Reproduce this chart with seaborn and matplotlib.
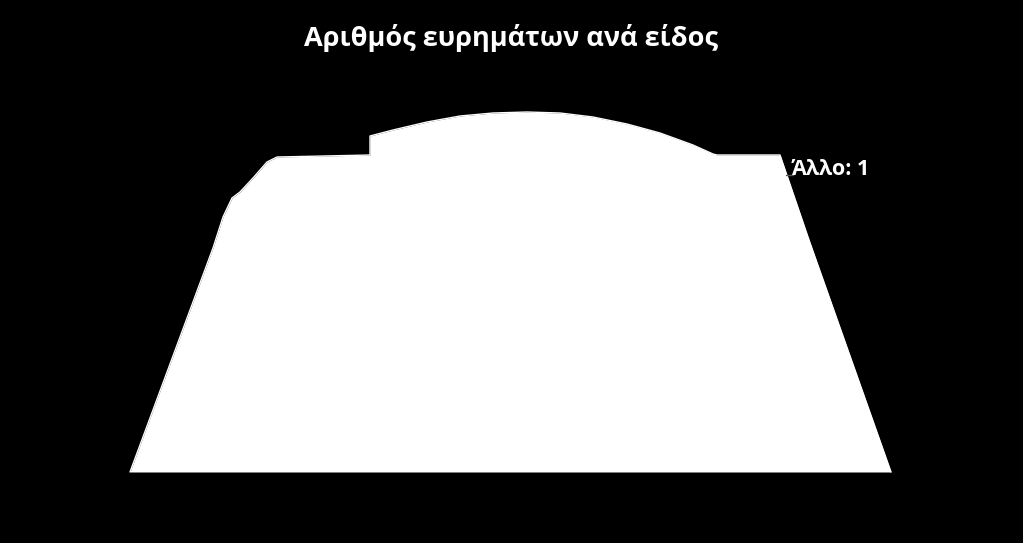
import matplotlib
matplotlib.use("Agg")
import matplotlib.pyplot as plt
import seaborn as sns
import numpy as np
import pandas as pd

# Outline of the white area (x position, top edge height)
outline_x = [130, 213, 223, 232, 240, 253, 267, 277, 370, 370, 393, 427, 460, 493,
             527, 560, 593, 627, 660, 693, 713, 717, 780, 809, 891]
outline_top = [472, 248, 217, 198, 192, 178, 162, 157, 155, 136, 130, 122, 116, 113,
               112, 113, 117, 124, 133, 145, 154, 155, 155, 240, 472]
baseline = 472

title = "Αριθμός ευρημάτων ανά είδος"
label_text = "Άλλο: 1"

sns.set_theme(style="white")
plt.rcParams['font.family'] = ['Open Sans', 'DejaVu Sans']

fig = plt.figure(figsize=(10.23, 5.43), dpi=100, facecolor="black")
ax = fig.add_axes([0, 0, 1, 1])
ax.set_facecolor("black")

df = pd.DataFrame({"x": outline_x, "top": outline_top})
ax.fill_between(df["x"], df["top"], baseline, color="white", linewidth=0)
sns.lineplot(data=df, x="x", y="top", sort=False, estimator=None, color="white",
             linewidth=1, ax=ax)

ax.set_xlim(0, 1023)
ax.set_ylim(543, 0)
ax.set_axis_off()

fig.text(0.5, 1 - 38 / 543, title, color="white", fontsize=19.5, fontweight="bold",
         ha="center", va="center")
ax.plot([786, 793], [175, 175], color="#555555", linewidth=1)
ax.text(792, 175, label_text, color="white", fontsize=15.5, fontweight="bold",
        ha="left", va="baseline")

fig.savefig("out.png", dpi=100, facecolor="black")
